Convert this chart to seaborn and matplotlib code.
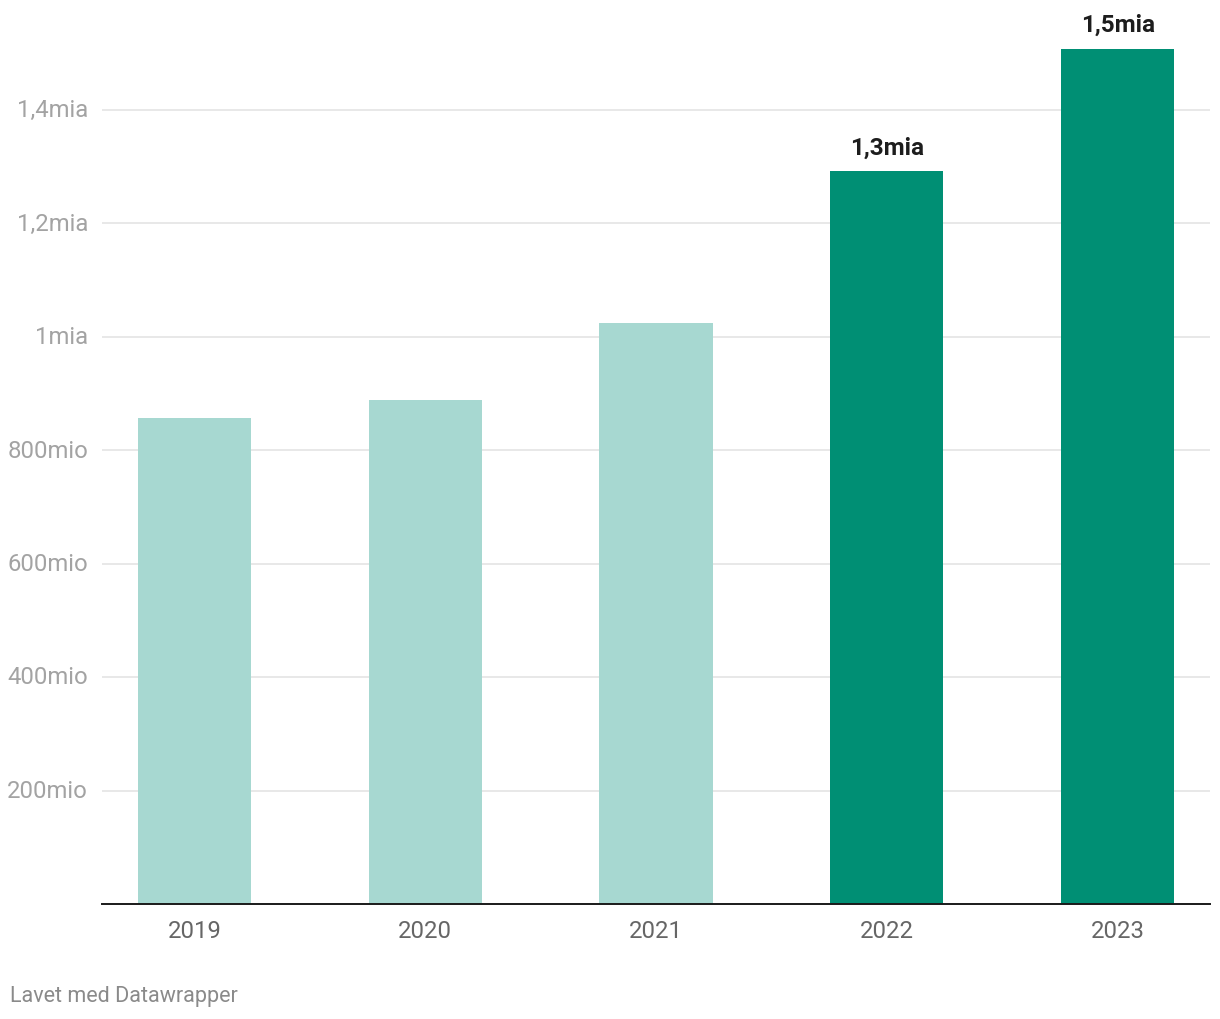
import matplotlib
matplotlib.use("Agg")
import matplotlib.pyplot as plt
import seaborn as sns
import pandas as pd

years = ["2019", "2020", "2021", "2022", "2023"]
values_mio = [856, 888, 1024, 1292, 1507]
highlight = [False, False, False, True, True]
bar_labels = ["", "", "", "1,3mia", "1,5mia"]
ytick_values = [200, 400, 600, 800, 1000, 1200, 1400]
ytick_labels = ["200mio", "400mio", "600mio", "800mio", "1mia", "1,2mia", "1,4mia"]

light = "#a7d8d1"
dark = "#008f74"

sns.set_theme(style="white")
plt.rcParams["font.family"] = ["Roboto", "DejaVu Sans"]

df = pd.DataFrame({"year": years, "value": values_mio,
                   "group": ["hi" if h else "lo" for h in highlight]})

fig = plt.figure(figsize=(12.2, 10.2), dpi=100)
ax = fig.add_axes([102/1220, 1 - 905/1020, (1210-102)/1220, 893/1020])

sns.barplot(data=df, x="year", y="value", hue="group",
            palette={"lo": light, "hi": dark}, dodge=False, width=0.49,
            legend=False, ax=ax, saturation=1, zorder=3, linewidth=0)

ax.set_xlim(-0.4, 4.4)
ax.set_ylim(0, 893/113.5*200)
ax.set_yticks(ytick_values)
ax.set_yticklabels(ytick_labels)
ax.yaxis.grid(True, color="#e6e6e6", linewidth=1.3, zorder=0)
ax.set_axisbelow(True)
ax.tick_params(axis="y", length=0, pad=10, labelsize=17.2, labelcolor="#a3a3a3")
ax.tick_params(axis="x", length=0, pad=10.5, labelsize=17.2, labelcolor="#666666")
for lbl in ax.get_yticklabels():
    lbl.set_verticalalignment("center")
ax.set_xlabel("")
ax.set_ylabel("")
for s in ["top", "right", "left"]:
    ax.spines[s].set_visible(False)
ax.spines["bottom"].set_color("#1a1a1a")
ax.spines["bottom"].set_linewidth(1.4)
ax.spines["bottom"].set_zorder(5)

for i, (v, t) in enumerate(zip(values_mio, bar_labels)):
    if t:
        ax.annotate(t, xy=(i, v), xytext=(0, 9), textcoords="offset points",
                    ha="center", va="bottom", fontsize=17.5, fontweight="bold",
                    color="#1d1d1d")

fig.text(10/1220, 1 - 997/1020, "Lavet med Datawrapper", fontsize=15.5,
         color="#8a8a8a", ha="left", va="center")

fig.savefig("out.png", dpi=100)
